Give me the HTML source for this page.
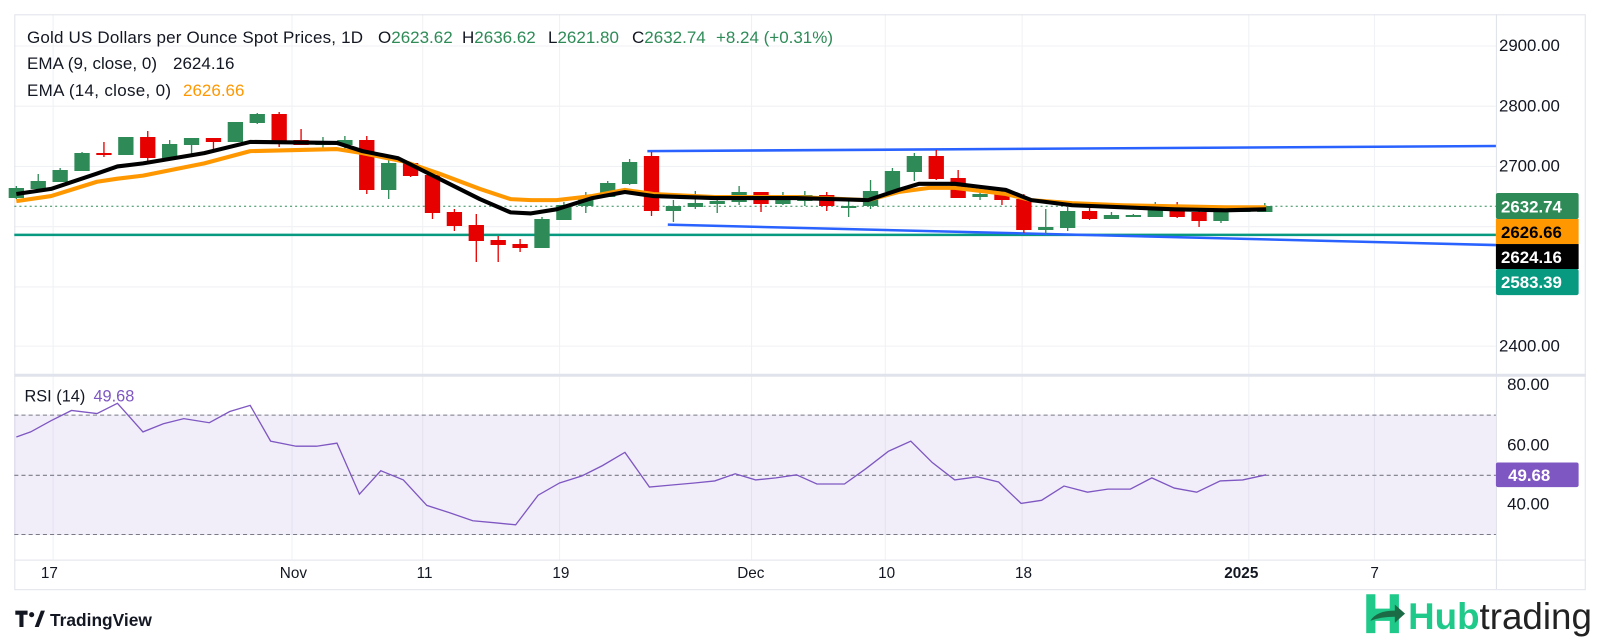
<!DOCTYPE html>
<html><head><meta charset="utf-8"><style>
body{margin:0;background:#fff;width:1601px;height:644px;overflow:hidden;font-family:"Liberation Sans",sans-serif}
svg{display:block}
</style></head><body>
<svg width="1601" height="644" xmlns="http://www.w3.org/2000/svg" font-family="Liberation Sans, sans-serif">
<rect width="1601" height="644" fill="#fff"/>
<g transform="scale(1.0211)">
<g stroke="#f0f1f4" stroke-width="1">
<line x1="14" y1="45" x2="1465" y2="45"/><line x1="14" y1="104" x2="1465" y2="104"/><line x1="14" y1="163" x2="1465" y2="163"/><line x1="14" y1="222" x2="1465" y2="222"/><line x1="14" y1="281" x2="1465" y2="281"/><line x1="14" y1="339" x2="1465" y2="339"/>
<line x1="52" y1="14" x2="52" y2="548"/><line x1="286" y1="14" x2="286" y2="548"/><line x1="414" y1="14" x2="414" y2="548"/><line x1="548" y1="14" x2="548" y2="548"/><line x1="736" y1="14" x2="736" y2="548"/><line x1="867" y1="14" x2="867" y2="548"/><line x1="1001" y1="14" x2="1001" y2="548"/><line x1="1223" y1="14" x2="1223" y2="548"/><line x1="1346" y1="14" x2="1346" y2="548"/>
</g>
<rect x="14.5" y="14.5" width="1538" height="563" fill="none" stroke="#e0e3eb"/>
<line x1="14" y1="367.5" x2="1553" y2="367.5" stroke="#e0e3eb" stroke-width="3"/>
<line x1="14" y1="548.5" x2="1553" y2="548.5" stroke="#e0e3eb"/>
<line x1="1465.5" y1="14" x2="1465.5" y2="577" stroke="#e0e3eb"/>
<rect x="14" y="406" width="1451" height="118" fill="#7e57c2" fill-opacity="0.1"/>
<g stroke="#787b86" stroke-dasharray="4,3" stroke-width="1">
<line x1="14" y1="406.5" x2="1465" y2="406.5"/><line x1="14" y1="465.5" x2="1465" y2="465.5"/><line x1="14" y1="523.5" x2="1465" y2="523.5"/>
</g>
<polyline fill="none" stroke="#7e57c2" stroke-width="1.3" points="16,428 30,423 50,412 70,402 95,405 115,395 140,423 160,415 180,410 205,414 225,403 245,397 265,432 290,437 310,437 330,434 352,484 373,461 395,470 418,495 440,502 463,510 485,512 505,514 527,485 548,473 570,466 590,456 612,443 636,477 658,475 680,473 700,471 720,464 740,470 760,468 780,465 800,474 827,474 848,459 870,442 892,432 913,453 935,470 957,467 978,472 1000,493 1020,490 1042,476 1065,482 1085,479 1107,479 1128,468 1150,478 1172,482 1195,471 1217,470 1240,465"/>
<line x1="14" y1="202" x2="1465" y2="202" stroke="#2e8b57" stroke-dasharray="2,3" stroke-width="1"/>
<line x1="14" y1="230" x2="1465" y2="230" stroke="#089981" stroke-width="2.5"/>
<line x1="634" y1="148" x2="1465" y2="143" stroke="#2962ff" stroke-width="2.5"/>
<line x1="654" y1="220" x2="1465" y2="240" stroke="#2962ff" stroke-width="2.5"/>
</g>
<g id="c" transform="scale(1.0211,1)"></g>
<g transform="scale(1.0211)">
<polyline fill="none" stroke="#ff9800" stroke-width="4" stroke-linejoin="round" points="16,197 50,192 95,178 115,175 140,172 200,160 245,148 330,146 355,150 395,158 430,170 470,185 500,195 520,196 545,196 580,192 612,186 640,190 700,193 780,193 850,196 880,188 910,184 935,184 985,190 1010,196 1050,199 1100,201 1150,202 1200,203 1240,203"/>
<polyline fill="none" stroke="#000" stroke-width="4" stroke-linejoin="round" points="16,190 50,185 95,170 115,163 140,160 200,150 245,139 330,140 355,148 390,155 430,175 470,195 500,208 520,209 545,205 580,194 612,188 640,192 700,194 780,194 850,196 880,186 900,180 935,180 960,183 985,186 1010,196 1050,201 1100,203 1150,205 1200,206 1240,205"/>
<g font-size="16.5" fill="#131722">
<text x="1468" y="50">2900.00</text><text x="1468" y="109">2800.00</text><text x="1468" y="168">2700.00</text><text x="1468" y="344">2400.00</text>
<text x="1476" y="382">80.00</text><text x="1476" y="441">60.00</text><text x="1476" y="499">40.00</text>
</g>
<g font-size="15" fill="#131722">
<text x="40" y="566">17</text><text x="274" y="566">Nov</text><text x="408" y="566">11</text><text x="541" y="566">19</text><text x="722" y="566">Dec</text><text x="860" y="566">10</text><text x="994" y="566">18</text><text x="1199" y="566" font-weight="bold">2025</text><text x="1342" y="566">7</text>
</g>
<g font-size="16.5" font-weight="bold" fill="#fff">
<rect x="1465" y="189" width="81" height="25.5" rx="2" fill="#2e8b57"/><text x="1470" y="208">2632.74</text>
<rect x="1465" y="214.5" width="81" height="24.5" fill="#ff9800"/><text x="1470" y="233" fill="#000">2626.66</text>
<rect x="1465" y="239" width="81" height="24.5" fill="#000"/><text x="1470" y="257.5">2624.16</text>
<rect x="1465" y="263.5" width="81" height="25.5" rx="2" fill="#089981"/><text x="1470" y="282">2583.39</text>
<rect x="1465" y="453" width="81" height="24" rx="2" fill="#7e57c2"/><text x="1477" y="471">49.68</text>
</g>
<text x="24" y="393" font-size="16" fill="#131722">RSI (14)<tspan dx="8" fill="#7e57c2">49.68</tspan></text>
<g transform="translate(15,598)">
<path d="M0 0h12v4h-4v12h-4v-12h-4z" fill="#131722"/>
<circle cx="16" cy="4" r="2.5" fill="#131722"/>
<path d="M19 16l6-16h4l-6 16z" fill="#131722"/>
<text x="34" y="15" font-size="17" fill="#131722" font-weight="bold">TradingView</text>
</g>
<g transform="translate(1338,582)">
<path d="M0 0h9v14h14v-14h9v38h-9v-12h-14v12h-9z" fill="#1fc98a"/>
<path d="M4 26 q6-10 24-10 v-6 l10 9 -10 9 v-6 q-14 0-24 4z" fill="#1a6b46"/>
<text x="41" y="34" font-size="36" font-weight="bold" fill="#1fc98a">Hub<tspan fill="#222" font-weight="normal">trading</tspan></text>
</g>
</g>
<g font-size="17" fill="#131722">
<text x="27" y="43" textLength="336">Gold US Dollars per Ounce Spot Prices, 1D</text>
<text x="378" y="43">O<tspan fill="#2e8b57">2623.62</tspan></text>
<text x="462" y="43">H<tspan fill="#2e8b57">2636.62</tspan></text>
<text x="548" y="43">L<tspan fill="#2e8b57">2621.80</tspan></text>
<text x="632" y="43">C<tspan fill="#2e8b57">2632.74</tspan></text>
<text x="716" y="43" fill="#2e8b57" textLength="117">+8.24 (+0.31%)</text>
<text x="27" y="69" textLength="130">EMA (9, close, 0)</text><text x="173" y="69">2624.16</text>
<text x="27" y="96" textLength="144">EMA (14, close, 0)</text><text x="183" y="96" fill="#ff9800">2626.66</text>
</g>
</svg>
<script>
var d=[
['g',188,198,186,199],['g',181,189,174,190],['g',170,182,168,182],['g',153,171,152,171],['r',153,155,142,157],['g',137,155,137,155],['r',137,158,131,161],['g',144,158,140,158],['g',138,145,138,155],['r',138,142,138,151],['g',122,142,122,142],['g',114,123,113,124],['r',114,141,112,147],['r',140,145,129,145],['g',143,144,137,148],['g',140,145,136,151],['r',140,190,136,194],['g',163,190,160,199],['r',163,176,163,177],['r',175,213,175,219],['r',212,226,209,231],['r',225,241,214,262],['r',240,245,236,262],['r',244,248,239,252],
['g',219,248,217,248],['g',205,220,202,220],['g',196,206,192,213],['g',183,197,181,197],['g',162,184,159,185],['r',156,211,152,216],['g',206,211,200,222],['g',203,207,191,209],['g',201,204,196,213],['g',192,202,186,205],['r',192,204,192,212],['g',200,204,192,205],['g',195,201,191,206],['r',195,206,192,211],['g',206,207,198,217],['g',191,206,180,209],['g',171,192,168,192],['g',156,172,153,181],['r',156,179,150,180],['r',178,198,170,198],['g',194,197,187,200],['r',194,200,190,205],['r',199,230,194,233],['g',227,230,209,234],['g',211,228,207,231],['r',211,219,206,220],['g',215,219,212,219],['g',215,216,214,217],['g',205,217,202,217],['r',205,217,202,218],['r',212,221,208,227],['g',211,221,209,223],['g',210,211,209,212],['g',206,212,203,212]];
var h='';for(var i=0;i<d.length;i++){var x=16+21.45*i,c=d[i][0]=='g'?'#2e8b57':'#e60000';var t=d[i][1],b=Math.max(d[i][2],t+2);
h+='<line x1="'+x+'" y1="'+d[i][3]+'" x2="'+x+'" y2="'+d[i][4]+'" stroke="'+c+'" stroke-width="1.3"/>';
h+='<rect x="'+(x-7.5)+'" y="'+t+'" width="15" height="'+(b-t)+'" fill="'+c+'"/>';}
document.getElementById('c').innerHTML=h;
</script>
</body></html>
